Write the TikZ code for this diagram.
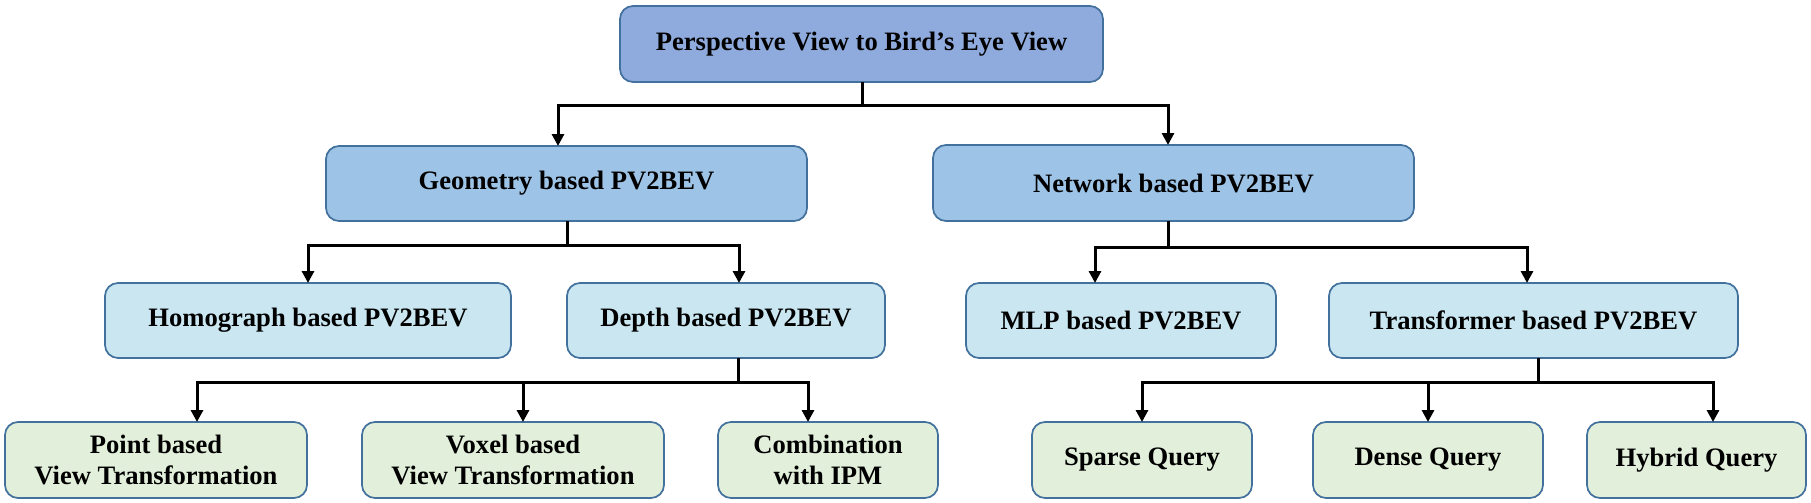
\documentclass[tikz,border=0pt]{standalone}
\usepackage{fontspec}
\setmainfont{Liberation Serif}
\usetikzlibrary{arrows.meta}
\definecolor{cTop}{HTML}{8FAADC}
\definecolor{cMid}{HTML}{9DC3E6}
\definecolor{cLow}{HTML}{C9E6F1}
\definecolor{cLeaf}{HTML}{E2EFDA}
\definecolor{cBorder}{HTML}{41719C}
\tikzset{
  box/.style={draw=cBorder, line width=0.85pt, rounded corners=6.5pt, inner sep=0pt, outer sep=0pt,
    align=center, font=\bfseries\fontsize{13.3pt}{15.8pt}\selectfont, text=black},
  bx/.style 2 args={box, minimum width=#1*0.5pt, minimum height=#2*0.5pt},
  conn/.style={line width=1.5pt, black},
  arr/.style={conn, -{Triangle[length=6pt,width=6pt]}}
}
\begin{document}
\begin{tikzpicture}[x=0.5pt,y=-0.5pt]
\useasboundingbox (0,0) rectangle (1811,503);
% nodes
\node[bx={483}{76}, fill=cTop] (top) at (861.5,44) {Perspective View to Bird’s Eye View};
\node[bx={481}{75}, fill=cMid] (geo) at (566.5,183.5) {Geometry based PV2BEV};
\node[bx={481}{76}, fill=cMid] (net) at (1173.5,183) {Network based PV2BEV};
\node[bx={406}{75}, fill=cLow] (homo) at (308,320.5) {Homograph based PV2BEV};
\node[bx={318}{75}, fill=cLow] (depth) at (726,320.5) {Depth based PV2BEV};
\node[bx={310}{75}, fill=cLow] (mlp) at (1121,320.5) {MLP based PV2BEV};
\node[bx={409}{75}, fill=cLow] (trans) at (1533.5,320.5) {Transformer based PV2BEV};
\node[bx={302}{76}, fill=cLeaf] (point) at (156,460) {Point based\\View Transformation};
\node[bx={302}{76}, fill=cLeaf] (voxel) at (513,460) {Voxel based\\View Transformation};
\node[bx={220}{76}, fill=cLeaf] (comb) at (828,460) {Combination\\with IPM};
\node[bx={220}{76}, fill=cLeaf] (sparse) at (1142,460) {Sparse Query};
\node[bx={230}{76}, fill=cLeaf] (dense) at (1428,460) {Dense Query};
\node[bx={219}{76}, fill=cLeaf] (hybrid) at (1696.5,460) {Hybrid Query};
% bus coordinates
\coordinate (s1) at (862,105);
\coordinate (a1) at (558,0);
\coordinate (a2) at (1168,0);
\coordinate (s2) at (567,245);
\coordinate (b1) at (308,0);
\coordinate (b2) at (739,0);
\coordinate (s3) at (1168,247);
\coordinate (c1) at (1095,0);
\coordinate (c2) at (1527,0);
\coordinate (s4) at (738,382);
\coordinate (d1) at (197,0);
\coordinate (d2) at (523,0);
\coordinate (d3) at (808,0);
\coordinate (s5) at (1538,382);
\coordinate (e1) at (1142,0);
\coordinate (e2) at (1428,0);
\coordinate (e3) at (1713,0);
% connectors
\draw[conn] (top.south -| s1) -- (s1);
\draw[arr] (s1) -| (geo.north -| a1);
\draw[arr] (s1) -| (net.north -| a2);
\draw[conn] (geo.south -| s2) -- (s2);
\draw[arr] (s2) -| (homo.north -| b1);
\draw[arr] (s2) -| (depth.north -| b2);
\draw[conn] (net.south -| s3) -- (s3);
\draw[arr] (s3) -| (mlp.north -| c1);
\draw[arr] (s3) -| (trans.north -| c2);
\draw[conn] (depth.south -| s4) -- (s4);
\draw[arr] (s4) -| (point.north -| d1);
\draw[arr] (s4 -| d2) -- (voxel.north -| d2);
\draw[arr] (s4) -| (comb.north -| d3);
\draw[conn] (trans.south -| s5) -- (s5);
\draw[arr] (s5) -| (sparse.north -| e1);
\draw[arr] (s5 -| e2) -- (dense.north -| e2);
\draw[arr] (s5) -| (hybrid.north -| e3);
\end{tikzpicture}
\end{document}
